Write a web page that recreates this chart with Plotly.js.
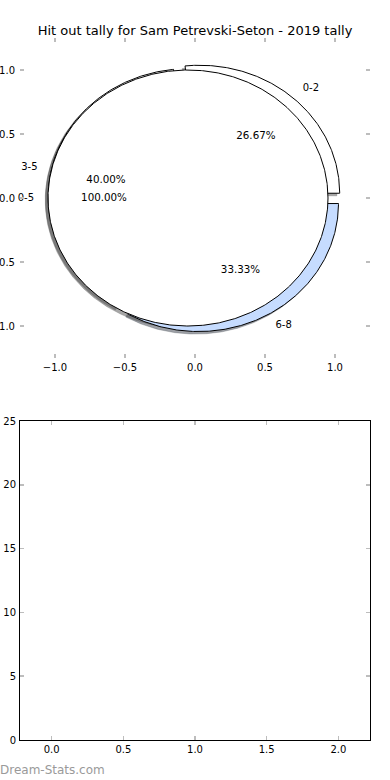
<!DOCTYPE html>
<html>
<head>
<meta charset="utf-8">
<script src="https://cdn.plot.ly/plotly-3.0.1.min.js"></script>
<style>
  html, body { margin: 0; padding: 0; background: #ffffff; }
  #chart { width: 390px; height: 780px; }
</style>
</head>
<body>
<div id="chart"></div>
<script>
// ---------- data ----------
const chartTitle = 'Hit out tally for Sam Petrevski-Seton - 2019 tally';
const tallyLabels = ['0-2', '3-5', '6-8'];
const tallyValues = [4, 6, 5];
const totalLabels = ['0-5'];
const totalValues = [15];
const pieTicks = [-1.0, -0.5, 0.0, 0.5, 1.0];
const emptyCategories = [];
const emptyValues = [];
const barXTicks = [0.0, 0.5, 1.0, 1.5, 2.0];
const barYTicks = [0, 5, 10, 15, 20, 25];
const watermark = 'Dream-Stats.com';

// ---------- style ----------
const tallyColors = ['#ffffff', '#ffffff', '#c6dcff'];
const totalColors = ['#ffffff'];
const explode = 0.05;
const shadowOffset = [-0.02, -0.02];
const labelDist = 1.1;
const pctDist = 0.6;
const FONT = 'DejaVu Sans, sans-serif';

function shade(hex) {
  const r = parseInt(hex.slice(1, 3), 16), g = parseInt(hex.slice(3, 5), 16), b = parseInt(hex.slice(5, 7), 16);
  return 'rgba(' + Math.round(r * 0.3) + ',' + Math.round(g * 0.3) + ',' + Math.round(b * 0.3) + ',0.5)';
}

// build matplotlib-style wedges (startangle 0, counter-clockwise, exploded)
function buildPie(labels, values, colors) {
  const total = values.reduce((a, b) => a + b, 0);
  let cum = 0;
  return values.map((v, i) => {
    const t1 = 2 * Math.PI * cum / total;
    const t2 = 2 * Math.PI * (cum + v) / total;
    cum += v;
    const tm = (t1 + t2) / 2;
    const cx = explode * Math.cos(tm), cy = explode * Math.sin(tm);
    const full = Math.abs(v - total) < 1e-12;
    const xs = [], ys = [];
    if (!full) { xs.push(cx); ys.push(cy); }
    const n = Math.max(8, Math.ceil((t2 - t1) / (Math.PI / 360)));
    for (let k = 0; k <= n; k++) {
      const t = t1 + (t2 - t1) * k / n;
      xs.push(cx + Math.cos(t));
      ys.push(cy + Math.sin(t));
    }
    if (!full) { xs.push(cx); ys.push(cy); }
    return {
      label: labels[i], pct: (100 * v / total).toFixed(2) + '%', color: colors[i],
      xs, ys, cx, cy, tm
    };
  });
}

const pieA = buildPie(tallyLabels, tallyValues, tallyColors);
const pieB = buildPie(totalLabels, totalValues, totalColors);
const allWedges = pieA.concat(pieB);

const traces = [];
// shadows beneath all wedges
allWedges.forEach(w => {
  traces.push({
    type: 'scatter', mode: 'lines', xaxis: 'x', yaxis: 'y',
    x: w.xs.map(v => v + shadowOffset[0]), y: w.ys.map(v => v + shadowOffset[1]),
    fill: 'toself', fillcolor: shade(w.color),
    line: { width: 0.5, color: shade(w.color) },
    hoverinfo: 'skip', showlegend: false
  });
});
// wedges
allWedges.forEach(w => {
  traces.push({
    type: 'scatter', mode: 'lines', xaxis: 'x', yaxis: 'y',
    x: w.xs, y: w.ys, fill: 'toself', fillcolor: w.color,
    line: { width: 1, color: '#000000' },
    hoverinfo: 'skip', showlegend: false
  });
});
// labels
const txtFont = { family: FONT, size: 10, color: '#000000' };
allWedges.forEach(w => {
  const lx = w.cx + labelDist * Math.cos(w.tm);
  const ly = w.cy + labelDist * Math.sin(w.tm);
  traces.push({
    type: 'scatter', mode: 'text', xaxis: 'x', yaxis: 'y', cliponaxis: false,
    x: [lx], y: [ly], text: [w.label],
    textposition: lx > 0 ? 'middle right' : 'middle left',
    textfont: txtFont, hoverinfo: 'skip', showlegend: false
  });
  traces.push({
    type: 'scatter', mode: 'text', xaxis: 'x', yaxis: 'y', cliponaxis: false,
    x: [w.cx + pctDist * Math.cos(w.tm)], y: [w.cy + pctDist * Math.sin(w.tm)],
    text: [w.pct], textposition: 'middle center',
    textfont: { family: FONT, size: 10.3, color: '#000000' },
    hoverinfo: 'skip', showlegend: false
  });
});
// empty lower panel
traces.push({
  type: 'bar', xaxis: 'x2', yaxis: 'y2',
  x: emptyCategories, y: emptyValues, showlegend: false
});

const W = 390, H = 780;
const tickStyle = {
  ticks: 'inside', ticklen: 4, tickwidth: 1.5, tickcolor: '#bdbdbd',
  showgrid: false, zeroline: false, fixedrange: true,
  tickfont: { family: FONT, size: 10, color: '#000000' }
};

const layout = {
  width: W, height: H,
  margin: { l: 0, r: 0, t: 0, b: 0 },
  paper_bgcolor: '#ffffff', plot_bgcolor: '#ffffff',
  showlegend: false,
  title: {
    text: chartTitle, x: 0.5, xanchor: 'center',
    y: 1 - 30 / H, yanchor: 'middle',
    font: { family: FONT, size: 13, color: '#000000' }
  },
  xaxis: Object.assign({}, tickStyle, {
    domain: [20 / W, 370 / W], anchor: 'y', range: [-1.25, 1.25],
    tickvals: pieTicks, tickformat: '.1f',
    showline: true, linecolor: 'rgba(0,0,0,0)', mirror: 'ticks'
  }),
  yaxis: Object.assign({}, tickStyle, {
    domain: [1 - 358 / H, 1 - 38 / H], anchor: 'x', range: [-1.25, 1.25],
    tickvals: pieTicks, tickformat: '.1f', ticklabelstandoff: 2,
    showline: true, linecolor: 'rgba(0,0,0,0)', mirror: 'ticks'
  }),
  xaxis2: Object.assign({}, tickStyle, {
    domain: [20 / W, 370 / W], anchor: 'y2', range: [-0.221, 2.221],
    tickvals: barXTicks, tickformat: '.1f',
    showline: true, linecolor: '#000000', linewidth: 1, mirror: 'ticks'
  }),
  yaxis2: Object.assign({}, tickStyle, {
    domain: [1 - 740 / H, 1 - 421 / H], anchor: 'x2', range: [0, 25],
    tickvals: barYTicks, ticklabelstandoff: 1,
    showline: true, linecolor: '#000000', linewidth: 1, mirror: 'ticks'
  }),
  annotations: [{
    text: watermark, xref: 'paper', yref: 'paper',
    x: 0, y: 1 - 770 / H, xanchor: 'left', yanchor: 'middle', xshift: -2,
    showarrow: false, font: { family: FONT, size: 12, color: '#9a9a9a' }
  }]
};

Plotly.newPlot('chart', traces, layout, { displayModeBar: false, staticPlot: true });
</script>
</body>
</html>
